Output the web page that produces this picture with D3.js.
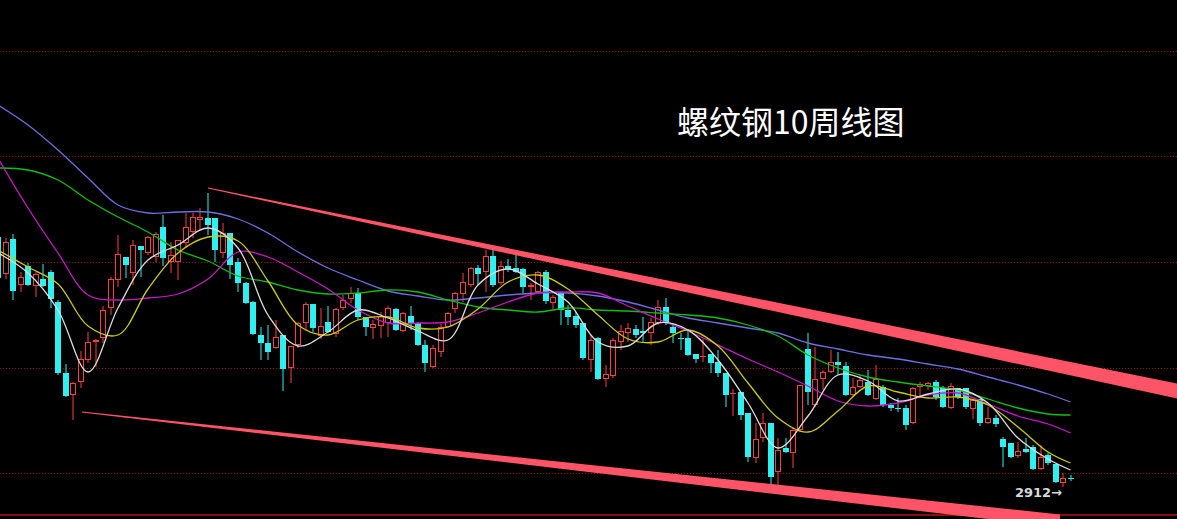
<!DOCTYPE html>
<html><head><meta charset="utf-8">
<script src="https://cdn.jsdelivr.net/npm/d3@7/dist/d3.min.js"></script>
<style>html,body{margin:0;padding:0;background:#000;overflow:hidden}</style>
</head><body>
<svg id="c" width="1177" height="519"></svg>
<script>
// ---- data (weekly candles, price units) ----
const title = "螺纹钢10周线图";
const lowLabel = "2912";
const openP = [3912,3764,3904,3720,3796,3716,3744,3772,3652,3368, 3280,3332,3420,3492,3508,3628,3740,3832,3768,3876,
  3848,3832,3952,3812,3812,3888,3932,3980,3988,3988, 3848,3928,3812,3728,3652,3520,3488,3468,3520,3388,
  3480,3568,3644,3516,3572,3524,3628,3664,3688,3592, 3548,3556,3568,3624,3536,3596,3568,3480,3392,3452,
  3552,3624,3684,3720,3788,3772,3836,3728,3796,3788, 3784,3712,3692,3772,3648,3688,3620,3596,3568,3420,
  3508,3344,3356,3492,3528,3544,3536,3528,3568,3632, 3552,3508,3508,3444,3432,3444,3412,3368,3284,3292,
  3208,3028,3108,3168,2972,3068,3048,3140,3464,3240, 3344,3372,3412,3396,3280,3312,3332,3264,3312,3240,
  3228,3228,3168,3312,3316,3332,3308,3228,3308,3308, 3224,3264,3168,3188,3104,3088,3036,3064,3072,2984,
  3040,3004,2928,2948];
const highP = [3928,3908,3924,3772,3808,3772,3804,3780,3660,3404, 3332,3456,3532,3504,3636,3752,3920,3832,3900,3876,
  3916,3932,4000,3892,3900,4008,4008,4028,4088,3988, 3968,3928,3828,3732,3656,3552,3560,3580,3520,3476,
  3572,3652,3644,3628,3636,3628,3680,3712,3708,3592, 3580,3612,3636,3628,3612,3636,3572,3500,3480,3564,
  3612,3692,3768,3792,3800,3860,3868,3816,3824,3848, 3788,3728,3776,3780,3680,3692,3640,3612,3568,3520,
  3512,3400,3508,3560,3568,3560,3592,3588,3660,3668, 3568,3528,3540,3444,3504,3444,3460,3368,3304,3292,
  3208,3168,3208,3168,3108,3108,3152,3320,3528,3472, 3380,3460,3452,3412,3348,3360,3380,3400,3320,3248,
  3268,3240,3312,3332,3332,3340,3316,3328,3308,3308, 3264,3264,3232,3200,3112,3088,3092,3108,3080,3080,
  3048,3004,2968,2960];
const lowP = [3732,3744,3660,3692,3716,3672,3712,3628,3360,3272, 3180,3308,3408,3392,3488,3600,3712,3748,3720,3752,
  3840,3812,3796,3768,3740,3868,3908,3940,3920,3812, 3828,3744,3692,3644,3520,3420,3420,3464,3296,3328,
  3468,3540,3532,3504,3528,3512,3620,3648,3580,3516, 3504,3508,3512,3536,3532,3540,3476,3372,3388,3432,
  3548,3608,3652,3712,3720,3692,3712,3720,3772,3768, 3688,3660,3688,3644,3624,3560,3560,3548,3420,3372,
  3340,3312,3348,3460,3492,3508,3488,3480,3560,3560, 3488,3460,3436,3408,3412,3368,3352,3232,3196,3180,
  3012,3008,3092,2920,2916,3048,2988,3132,3240,3232, 3300,3368,3360,3276,3276,3308,3276,3260,3232,3216,
  3212,3140,3164,3272,3300,3260,3228,3224,3264,3224, 3184,3156,3164,3152,2992,3028,3028,3048,2980,2980,
  3000,2928,2912,2936];
const closeP = [3748,3892,3696,3752,3720,3764,3716,3664,3368,3276, 3328,3424,3492,3500,3620,3744,3844,3800,3880,3860,
  3912,3924,3828,3840,3900,3952,3992,3992,3960,3860, 3928,3800,3728,3648,3524,3488,3452,3512,3384,3476,
  3568,3644,3548,3556,3532,3624,3660,3688,3592,3552, 3564,3596,3628,3540,3608,3568,3480,3408,3468,3552,
  3608,3688,3732,3788,3764,3836,3720,3796,3784,3772, 3712,3720,3772,3656,3672,3620,3592,3560,3428,3500,
  3344,3364,3500,3536,3548,3520,3528,3572,3632,3568, 3528,3504,3440,3424,3436,3408,3368,3280,3288,3200,
  3032,3104,3168,2952,3060,3052,3140,3320,3292,3344, 3372,3412,3400,3280,3312,3340,3280,3344,3240,3228,
  3224,3160,3308,3324,3328,3272,3232,3316,3272,3232, 3260,3168,3188,3164,3072,3032,3056,3052,2984,3032,
  3008,2932,2948,2944];

// moving averages read at every 4th week (plus last week)
const maIdx = [0,4,8,12,16,20,24,28,32,36,40,44,48,52,56,60,64,68,72,76,80,84,88,92,96,100,104,108,112,116,120,124,128,132,136,140,143];
const ma5  = [3848,3768,3620,3372,3628,3820,3880,3948,3868,3600,3476,3532,3620,3588,3536,3500,3720,3784,3724,3652,3492,3476,3568,3540,3420,3248,3068,3196,3360,3336,3256,3284,3304,3248,3108,3024,2980];
const ma10 = [3860,3792,3724,3556,3520,3704,3848,3912,3896,3736,3560,3520,3580,3592,3548,3552,3624,3732,3760,3704,3600,3504,3492,3540,3476,3328,3188,3132,3216,3316,3292,3268,3272,3240,3152,3052,3008];
const ma20 = [4228,4028,3848,3680,3660,3668,3684,3744,3852,3832,3772,3704,3620,3568,3568,3572,3608,3652,3688,3692,3688,3636,3584,3536,3480,3424,3372,3316,3256,3236,3248,3280,3288,3244,3196,3164,3128];
const ma40 = [4188,4180,4140,4060,3992,3932,3860,3816,3756,3732,3700,3684,3688,3700,3692,3660,3632,3620,3612,3628,3620,3616,3608,3600,3588,3560,3516,3440,3388,3352,3332,3316,3300,3264,3228,3204,3200];
const ma60 = [4440,4360,4260,4148,4040,4008,4012,4012,3984,3928,3852,3788,3740,3696,3676,3660,3668,3680,3688,3688,3676,3652,3620,3588,3568,3548,3528,3488,3464,3440,3424,3404,3384,3352,3320,3284,3252];

// grid levels and channel (trend) lines: [weekIndex, price]
const gridLevels = [4656, 4234, 3812, 3390, 2968];
const baseLevel = 2800;
const upperChannel = [[28, 4108], [157.2, 3296]];
const lowerChannel = [[11.2, 3212], [141.6, 2776]];

// ---- drawing ----
const W = 1177, H = 519;
const svg = d3.select("#c");
svg.append("rect").attr("width", W).attr("height", H).attr("fill", "#000");

const x = d3.scaleLinear().domain([0, 143]).range([-2, 1070.5]);
const y = d3.scaleLinear().domain([4860, 2784]).range([0, 519]);

// dotted grid
svg.append("g").selectAll("line").data(gridLevels).join("line")
  .attr("x1", 0).attr("x2", W)
  .attr("y1", d => Math.round(y(d)) + 0.5).attr("y2", d => Math.round(y(d)) + 0.5)
  .attr("stroke", "#990c0c").attr("stroke-width", 1).attr("stroke-dasharray", "1,2");
svg.append("line").attr("x1", 0).attr("x2", W)
  .attr("y1", y(baseLevel)).attr("y2", y(baseLevel))
  .attr("stroke", "#8a1010").attr("stroke-width", 2);

// candles
const candles = openP.map((o, i) => ({i, o, h: highP[i], l: lowP[i], c: closeP[i]}));
const UP = "#ff3c3c", DOWN = "#2ef0f0";
const gC = svg.append("g");
candles.forEach(d => {
  const cx = Math.round(x(d.i));
  const up = d.c > d.o;
  const top = Math.round(y(Math.max(d.o, d.c)));
  const bot = Math.round(y(Math.min(d.o, d.c)));
  const hy = Math.round(y(d.h)), ly = Math.round(y(d.l));
  const col = up ? UP : DOWN;
  if (up) {
    if (top > hy) gC.append("rect").attr("x", cx - 0.5).attr("y", hy).attr("width", 1).attr("height", top - hy).attr("fill", col);
    if (ly > bot) gC.append("rect").attr("x", cx - 0.5).attr("y", bot).attr("width", 1).attr("height", ly - bot).attr("fill", col);
    const bh = Math.max(1, bot - top);
    gC.append("rect").attr("x", cx - 2.5).attr("y", top + 0.5).attr("width", 5).attr("height", Math.max(0.01, bh - 1))
      .attr("fill", "#000").attr("stroke", col).attr("stroke-width", 1);
  } else {
    gC.append("rect").attr("x", cx - 0.5).attr("y", hy).attr("width", 1).attr("height", Math.max(1, ly - hy)).attr("fill", col);
    gC.append("rect").attr("x", cx - 3).attr("y", top).attr("width", 6).attr("height", Math.max(1, bot - top)).attr("fill", col);
  }
});

// moving averages
const maSeries = [
  {v: ma60, c: "#6e6ee0"},
  {v: ma40, c: "#10c010"},
  {v: ma20, c: "#c818c8"},
  {v: ma10, c: "#cccc10"},
  {v: ma5,  c: "#dcdcdc"}
];
const line = d3.line().x(d => x(d[0])).y(d => y(d[1])).curve(d3.curveCatmullRom.alpha(0.5));
maSeries.forEach(s => {
  svg.append("path").attr("d", line(maIdx.map((k, j) => [k, s.v[j]])))
    .attr("fill", "none").attr("stroke", s.c).attr("stroke-width", 1.3);
});

// channel lines (tapered)
function channel(pts, w1, w2) {
  const [a, b] = pts;
  const x1 = x(a[0]), y1 = y(a[1]), x2 = x(b[0]), y2 = y(b[1]);
  const poly = [[x1, y1 - w1], [x2, y2 - w2], [x2, y2 + w2], [x1, y1 + w1]];
  svg.append("polygon").attr("points", poly.map(p => p.join(",")).join(" ")).attr("fill", "#ff5468");
}
channel(upperChannel, 0.5, 7.5);
channel(lowerChannel, 0.5, 6.5);

// low label
const li = 142;
svg.append("text").attr("x", x(li) - 1).attr("y", y(lowP[li]) + 10)
  .attr("text-anchor", "end").attr("fill", "#d8d8d8")
  .attr("font-family", "'DejaVu Sans', Arial, sans-serif").attr("font-size", 13).attr("font-weight", "bold")
  .text(lowLabel + "→");

// title
svg.append("text").attr("x", 677).attr("y", 134)
  .attr("fill", "#ffffff").attr("font-family", "'Noto Sans CJK SC', 'Noto Sans', sans-serif")
  .attr("font-size", 32).text(title);
</script>
</body></html>
